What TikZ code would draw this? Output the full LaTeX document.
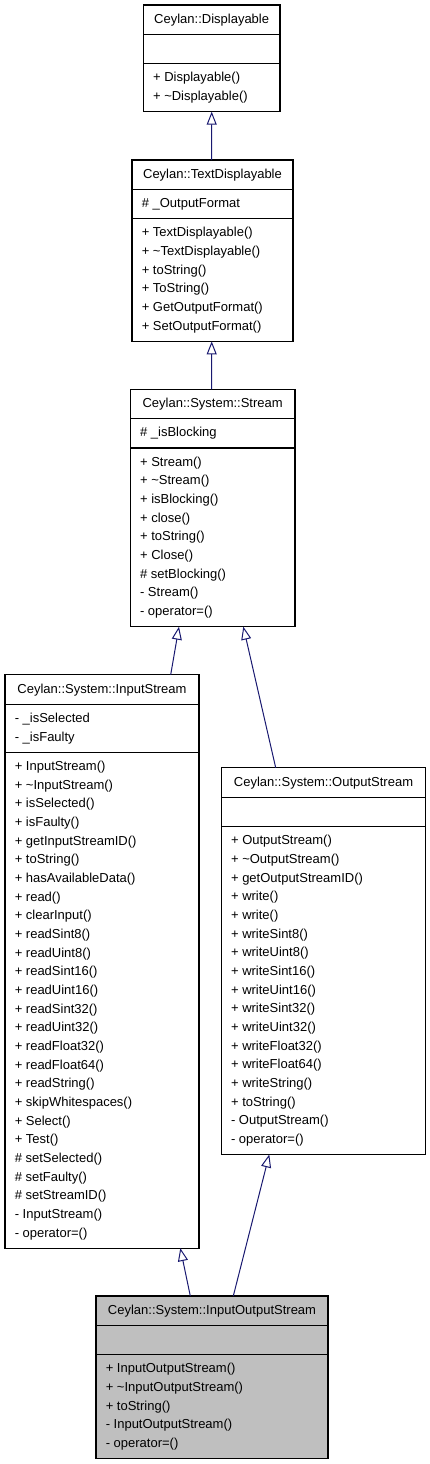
\documentclass[tikz,border=0pt]{standalone}
\usepackage{fontspec}
\setmainfont{Liberation Sans}
\usetikzlibrary{arrows.meta,fit,calc}
\definecolor{edgeblue}{HTML}{191970}
\definecolor{iosgray}{HTML}{BFBFBF}
\tikzset{
  umlbox/.style={draw=black, line width=0.8pt, inner sep=0pt, outer sep=0pt},
  boxline/.style={draw=black, line width=0.8pt},
  umltitle/.style={anchor=base, inner sep=0pt, font=\fontsize{9.75}{11.7}\selectfont},
  member/.style={anchor=base west, inner sep=0pt, font=\fontsize{9.75}{11.7}\selectfont},
  edge/.style={draw=edgeblue, line width=0.75pt, -{Triangle[open, length=9.75pt, width=7.5pt]}}
}
% #1 name, #2 xl, #3 xr, #4 top, #5 attr lines, #6 method lines, #7 title, #8 attrs, #9 methods
\newcommand\umlclass[9]{%
  \pgfmathsetmacro\ya{#4+29.33}%
  \pgfmathsetmacro\yb{\ya+max(#5,1)*18.67+10.67}%
  \pgfmathsetmacro\yc{\yb+max(#6,1)*18.67+10.67}%
  \pgfmathsetmacro\xm{(#2+#3)/2}%
  \node[umlbox, fit={(#2,#4) (#3,\yc)}] (#1) {};
  \draw[boxline] (#2,\ya) -- (#3,\ya);
  \draw[boxline] (#2,\yb) -- (#3,\yb);
  \node[umltitle] (#1-title) at (\xm,#4+18.3) {#7};
  \if\relax\detokenize{#8}\relax\else
  \foreach \mname [count=\i from 0] in {#8} {\node[member] (#1-a\i) at (#2+9.5,\ya+18.3+\i*18.67) {\mname};}%
  \fi
  \foreach \mname [count=\i from 0] in {#9} {\node[member] (#1-m\i) at (#2+9.5,\yb+18.3+\i*18.67) {\mname};}%
}
\begin{document}
\begin{tikzpicture}[x=0.75pt,y=-0.75pt]
\useasboundingbox (0,0) rectangle (429,1464);
\umlclass{D}{143.3}{280}{5}{0}{2}{Ceylan::Displayable}{}{+ Displayable(), + \textasciitilde Displayable()}
\umlclass{T}{132}{293}{160}{1}{6}{Ceylan::TextDisplayable}{\# \_OutputFormat}{+ TextDisplayable(), + \textasciitilde TextDisplayable(), + toString(), + ToString(), + GetOutputFormat(), + SetOutputFormat()}
\umlclass{S}{130.3}{295}{389.3}{1}{9}{Ceylan::System::Stream}{\# \_isBlocking}{+ Stream(), + \textasciitilde Stream(), + isBlocking(), + close(), + toString(), + Close(), \# setBlocking(), - Stream(), - operator=()}
\umlclass{I}{5}{199}{674.7}{2}{26}{Ceylan::System::InputStream}{- \_isSelected, - \_isFaulty}{+ InputStream(), + \textasciitilde InputStream(), + isSelected(), + isFaulty(), + getInputStreamID(), + toString(), + hasAvailableData(), + read(), + clearInput(), + readSint8(), + readUint8(), + readSint16(), + readUint16(), + readSint32(), + readUint32(), + readFloat32(), + readFloat64(), + readString(), + skipWhitespaces(), + Select(), + Test(), \# setSelected(), \# setFaulty(), \# setStreamID(), - InputStream(), - operator=()}
\umlclass{O}{221.3}{425.7}{767.7}{0}{17}{Ceylan::System::OutputStream}{}{+ OutputStream(), + \textasciitilde OutputStream(), + getOutputStreamID(), + write(), + write(), + writeSint8(), + writeUint8(), + writeSint16(), + writeUint16(), + writeSint32(), + writeUint32(), + writeFloat32(), + writeFloat64(), + writeString(), + toString(), - OutputStream(), - operator=()}
\begin{scope}[umlbox/.append style={fill=iosgray}]
\umlclass{X}{96}{328}{1296}{0}{5}{Ceylan::System::InputOutputStream}{}{+ InputOutputStream(), + \textasciitilde InputOutputStream(), + toString(), - InputOutputStream(), - operator=()}
\end{scope}
% inheritance connectors
\draw[edge] ($(T.north west)+(79.7,0)$) -- ($(D.south west)+(68.4,0)$);
\draw[edge] ($(S.north west)+(81.4,0)$) -- ($(T.south west)+(79.7,0)$);
\draw[edge] ($(I.north west)+(165.7,0)$) -- ($(S.south west)+(48.7,0)$);
\draw[edge] ($(O.north west)+(54.4,0)$) -- ($(S.south west)+(113,0)$);
\draw[edge] ($(X.north west)+(94.3,0)$) -- ($(I.south west)+(175.3,0)$);
\draw[edge] ($(X.north west)+(137.3,0)$) -- ($(O.south west)+(48,0)$);
\end{tikzpicture}
\end{document}
